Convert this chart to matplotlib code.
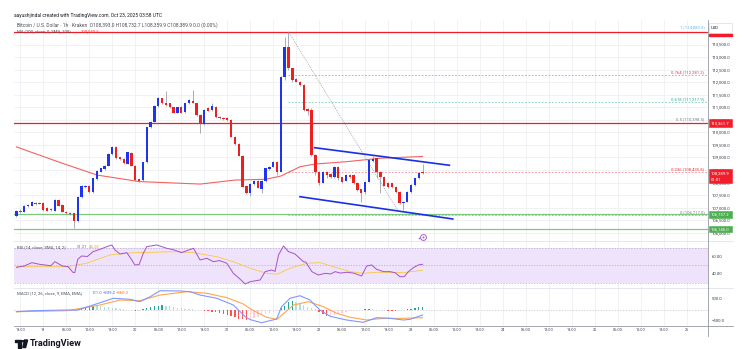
import matplotlib.pyplot as plt
from matplotlib.patches import Rectangle, Circle, Polygon

plt.rcParams['font.family'] = ['Roboto', 'DejaVu Sans']

W, H = 747, 349

# hourly BTC/USD candles, hours counted from Oct 19 00:00 UTC
hours = list(range(-7, 100))
opens = [106668, 106881, 106841, 107067, 107080, 107200, 107190, 107173, 106974, 106940,
         106881, 107306, 107107, 106841, 106801, 106780, 106469, 107439, 107840, 107877,
         107611, 108129, 108435, 108541, 108674, 109138, 109431, 109006, 108939, 108740,
         109191, 108674, 108129, 108089, 108806, 110201, 110427, 111051, 111356, 111157,
         111157, 110998, 110785, 111024, 110812, 111157, 111263, 111157, 110692, 110334,
         110958, 110891, 111024, 110600, 110560, 110586, 110493, 109829, 109537, 109072,
         107863, 107571, 107943, 108076, 107744, 108063, 108541, 108634, 108833, 108435,
         112219, 113415, 112551, 112113, 112020, 111888, 110918, 110891, 109099, 108435,
         107997, 108435, 108342, 108209, 108634, 108209, 108076, 108302, 108302, 107997,
         107731, 107638, 108036, 108860, 108966, 108435, 108235, 107997, 107970, 107837,
         107638, 107173, 107240, 107611, 107904, 108169, 108393]
highs = [106900, 106930, 107100, 107160, 107250, 107240, 107230, 107220, 107010, 106980,
         107340, 107350, 107130, 106880, 106830, 106800, 107460, 107910, 107900, 107910,
         108200, 108490, 108600, 108700, 109160, 109460, 109450, 109030, 108960, 109230,
         109220, 108700, 108150, 108830, 110230, 110450, 111080, 111400, 111380, 111648,
         111190, 111020, 111020, 111050, 111180, 111320, 111688, 111180, 110720, 110920,
         111000, 111180, 111050, 110640, 110600, 110610, 110520, 109860, 109560, 109100,
         107890, 107970, 108100, 108100, 108090, 108590, 108660, 108860, 108860, 112250,
         113800, 114010, 112580, 112150, 112050, 111920, 110960, 110990, 109130, 108460,
         108470, 108460, 108370, 108660, 108660, 108240, 108330, 108330, 108330, 108020,
         107760, 108060, 108930, 109060, 108990, 108460, 108260, 108020, 108000, 107860,
         107660, 107260, 107660, 107930, 108190, 108420, 108733]
lows = [106620, 106800, 106810, 107030, 107050, 107120, 107130, 106880, 106850, 106860,
        106860, 107050, 106810, 106740, 106720, 106177, 106420, 107400, 107800, 107580,
        107590, 108100, 108410, 108520, 108650, 109110, 108930, 108900, 108740, 108720,
        108650, 108080, 108020, 108060, 108780, 110180, 110400, 111030, 111130, 111060,
        110970, 110760, 110760, 110760, 110790, 111130, 111160, 110670, 109962, 110300,
        110840, 110860, 110570, 110530, 110500, 110470, 109800, 109510, 109040, 107810,
        107540, 107450, 107920, 107770, 107600, 108040, 108520, 108610, 108300, 108410,
        112100, 112500, 112000, 111990, 111850, 110860, 110692, 109070, 108300, 107900,
        107970, 108200, 108180, 108180, 108100, 107990, 108050, 108200, 107940, 107680,
        107240, 107550, 108010, 108830, 108200, 107600, 107850, 107780, 107780, 107600,
        107140, 106900, 107210, 107590, 107880, 108140, 108360]
closes = [106881, 106828, 107067, 107110, 107213, 107147, 107160, 106908, 106881, 106890,
          107306, 107080, 106841, 106775, 106748, 106482, 107439, 107877, 107870, 107611,
          108169, 108461, 108567, 108674, 109138, 109431, 108966, 108926, 108767, 109205,
          108674, 108103, 108049, 108806, 110201, 110427, 111051, 111356, 111157, 111091,
          110998, 110785, 110998, 110785, 111157, 111290, 111184, 110692, 110334, 110891,
          110865, 111051, 110599, 110560, 110530, 110493, 109829, 109537, 109072, 107837,
          107571, 107943, 108076, 107797, 108063, 108567, 108634, 108833, 108435, 112219,
          113415, 112551, 112087, 112020, 111888, 110891, 110865, 109099, 108435, 107997,
          108435, 108302, 108209, 108634, 108169, 108036, 108302, 108235, 107970, 107704,
          107571, 108036, 108900, 108926, 108435, 108235, 107877, 107811, 107811, 107638,
          107173, 107240, 107638, 107904, 108169, 108395, 108390]

# 100-period moving average
ma_hours = [-7, 4, 14, 25, 41, 50, 58, 62, 67, 71, 79, 88, 99]
ma_vals = [109420, 108820, 108300, 108040, 107940, 108100, 108130, 108260, 108630,
           108740, 108830, 108970, 109040.5]

# descending channel
chan_upper_t = [70.8, 106.0]
chan_upper_p = [109390, 108689]
chan_lower_t = [67.0, 106.9]
chan_lower_p = [107437, 106549]

# fibonacci retracement (high -> low swing)
fib_ratios = ["1", "0.764", "0.618", "0.5", "0.236", "0"]
fib_prices = [114080.0, 112281.2, 111217.9, 110398.5, 108435.8, 106717.0]
fib_colors = ["#64b5f6", "#f23645", "#22ab94", "#787b86", "#f23645", "#787b86"]
swing_t = [64, 92.5]
swing_p = [114010, 106900]

red_levels = [113990, 110361.7]
green_levels = [106757.2, 106145.0]
last_price = 108389.9

price_ticks = [106000 + 500 * i for i in range(16)]

# RSI(14) and its moving average
rsi_t = [-7, -5, -3, -1, 2, 3, 5, 6.5, 7.7, 8.2, 9, 10, 11.5, 13, 14.8, 16.6, 17.9, 18.7,
         20, 21.8, 23.1, 23.9, 25, 26.1, 27, 29.6, 32.2, 34, 36.1, 37.5, 39.2, 40.9, 42.7,
         44.4, 46, 47.9, 49.6, 51.4, 52.7, 54, 56.6, 57.9, 59.6, 60.5, 61.4, 62.7, 64,
         65.7, 67.9, 68.5, 70.1, 71.8, 73.6, 75, 76.2, 77.5, 79.2, 81, 83.1, 84.4, 85.7,
         87, 88.8, 90.5, 91.8, 93.1, 94.2, 95.3, 96.6, 97.9, 99]
rsi_v = [47.7, 49.2, 53.1, 51.2, 49.5, 54.2, 49.2, 48.4, 42.0, 41.5, 57.0, 60.8, 60.2,
         65.8, 68.5, 71.6, 73.5, 67.7, 63.1, 64.6, 56.2, 50.4, 50.8, 63.9, 71.6, 73.5,
         69.7, 68.0, 64.6, 67.0, 69.7, 56.2, 58.1, 54.2, 55.5, 52.4, 40.8, 33.9, 28.4,
         31.1, 33.1, 42.7, 44.6, 43.0, 62.0, 72.4, 65.8, 63.1, 54.2, 53.8, 42.7, 38.8,
         40.8, 40.0, 42.7, 41.0, 42.0, 41.0, 37.7, 49.2, 50.4, 45.4, 42.7, 42.7, 41.5,
         36.9, 36.9, 42.7, 47.3, 50.4, 51.21]
rsi_ma_t = [-7, 6.1, 11.3, 17.4, 23.5, 27.9, 34.8, 39.2, 45.3, 49.6, 54, 58.3, 61, 64.4,
            68.8, 72.3, 75.7, 80.1, 83.6, 87, 94, 99]
rsi_ma_v = [48.4, 48.4, 52.4, 62.0, 64.6, 65.0, 65.8, 64.6, 60.0, 54.2, 46.6, 40.8, 39.7,
            46.6, 52.4, 53.1, 48.4, 42.7, 40.8, 42.0, 41.5, 44.28]

# MACD(12, 26, 9)
macd_t = [-7, -2.6, 6.1, 8.7, 12.2, 18.3, 22.6, 25.2, 27.9, 30.5, 35.7, 38.3, 40.9, 45.3,
          49.6, 52.7, 54, 57, 60.9, 62.2, 64.4, 67, 69.6, 72.2, 74.9, 79.2, 83.5, 87,
          90.5, 94, 95.7, 99]
macd_v = [-85, -39, -7, -20, 177, 532, 486, 376, 606, 883, 869, 837, 684, 532, 223, -315,
          -450, -592, -422, 145, 532, 652, 454, -7, -300, -468, -574, -362, -390, -468,
          -437, -239.2]
signal_t = [-7, 6.1, 14.8, 20, 25.2, 30.5, 37.5, 42.7, 47.9, 52.2, 54, 58.3, 61, 65.3,
            69.2, 73.1, 76.6, 80.1, 84.4, 88.8, 94, 99]
signal_v = [-85, -39, 223, 454, 422, 684, 837, 763, 560, 270, 50, -343, -437, 223, 376,
            145, -159, -343, -468, -390, -390, -360.2]
hist_v = [-20, -15, -10, 5, 10, 15, 10, 5, 10, 15, 5, -5, -10, -20, -15,
          20, 60, 100, 150, 180, 200, 190, 170,
          150, 120, 100, 80, 50, 30, 10, -20, -40, -30,
          20, 80, 130, 180, 200, 210, 190, 160, 120, 90,
          70, 50, 40, 20, 10, -10, -30, -60, -90, -120,
          -160, -200, -250, -300, -350, -400, -440, -450, -430, -380,
          -320, -260, -200, -140, -80, -30,
          80, 200, 350, 420, 380, 300, 220,
          150, 80, 20, -80, -200, -300,
          -280, -220, -170, -130, -100, -70, -50, -30,
          -10, 20, 40, 30, 10, -10, -20, -30,
          -40, -50, -30, -10, 20, 50, 80, 110, 121]

tick_hours = [-6 + 6 * i for i in range(30)]
tick_labels = ["18:00"] + [lab for d in range(19, 27)
                           for lab in (str(d), "06:00", "12:00", "18:00")][:29]

UP, DOWN, WICK = "#1f33f2", "#ef1f1f", "#8a8c99"
GRID = "#eef0f4"
AXTXT = "#3a3d46"
FS = 3.1
HFS = 3.5


def fx(x):
    return x / W


def fy(y):
    return 1 - y / H


def rect(x0, y0, x1, y1):
    return [fx(x0), fy(y1), (x1 - x0) / W, (y1 - y0) / H]


fig = plt.figure(figsize=(W / 100, H / 100), dpi=100)
fig.patch.set_facecolor("white")

XL = (-7.65, 173.5)
ax_p = fig.add_axes(rect(14, 20, 708, 241))
ax_r = fig.add_axes(rect(14, 241, 708, 288))
ax_m = fig.add_axes(rect(14, 288, 708, 325.7))
for ax in (ax_p, ax_r, ax_m):
    ax.set_axis_off()
    ax.set_xlim(*XL)
    for t in tick_hours:
        ax.axvline(t, color=GRID, lw=0.6, zorder=0)
ax_p.set_ylim(105672, 114477)
ax_r.set_ylim(23.8, 78.1)
ax_m.set_ylim(-730, 1007)
for p in price_ticks:
    ax_p.axhline(p, color=GRID, lw=0.6, zorder=0)

# ---- price panel ----
for p in red_levels:
    ax_p.axhline(p, color="#f21d2a", lw=0.9, zorder=2)
for p in green_levels:
    ax_p.axhline(p, color="#7cc97f", lw=0.9, zorder=2)
for lab, p, c in zip(fib_ratios, fib_prices, fib_colors):
    if lab not in ("1", "0.5"):
        ax_p.plot([swing_t[0], XL[1]], [p, p], color=c, lw=0.6, ls=(0, (2, 2)),
                  alpha=0.6, zorder=2)
    ax_p.text(172.6, p + 35, f"{lab} ({p:,.1f})", color=c, fontsize=FS,
              ha="right", va="bottom", zorder=6)
ax_p.plot(swing_t, swing_p, color="#9598a1", lw=0.5, ls=(0, (1.5, 1.5)), zorder=2)
ax_p.plot(ma_hours, ma_vals, color="#f26363", lw=0.8, zorder=3)

colors = [UP if c >= o else DOWN for o, c in zip(opens, closes)]
bottoms = [min(o, c) for o, c in zip(opens, closes)]
heights = [max(abs(c - o), 12) for o, c in zip(opens, closes)]
ax_p.vlines(hours, lows, highs, color=WICK, lw=0.5, zorder=4)
ax_p.bar(hours, heights, bottom=bottoms, width=0.62, color=colors, lw=0, zorder=5)

ax_p.plot(chan_upper_t, chan_upper_p, color="#1b2fe6", lw=1.2, zorder=6)
ax_p.plot(chan_lower_t, chan_lower_p, color="#1b2fe6", lw=1.2, zorder=6)

# event marker under the latest candle
ax_p.plot([99], [105830], marker="o", ms=4.2, mfc="white", mec="#b45bd0", mew=0.7,
          zorder=6)
ax_p.plot([99], [105830], marker="o", ms=1.4, mfc="#b45bd0", mec="none", zorder=7)
ax_p.plot([98], [105805], marker="o", ms=1.2, mfc="#5b7cf0", mec="none", zorder=7)

# ---- RSI panel ----
ax_r.axhspan(30, 70, color="#efe3fc", lw=0, zorder=0)
for lvl in (70, 50, 30):
    ax_r.axhline(lvl, color="#b9a9c9", lw=0.5, ls=(0, (2, 2)), zorder=1)
ax_r.plot(rsi_ma_t, rsi_ma_v, color="#f7c843", lw=0.6, zorder=2)
ax_r.plot(rsi_t, rsi_v, color="#a552c9", lw=0.7, zorder=3)

# ---- MACD panel ----
ax_m.axhline(0, color="#c4c6cc", lw=0.5, ls=(0, (2, 2)), zorder=1)
hcols = []
prev = 0
for v in hist_v:
    if v >= 0:
        hcols.append("#26a69a" if v >= prev else "#b2dfdb")
    else:
        hcols.append("#ff5252" if v < prev else "#ffcdd2")
    prev = v
ax_m.bar(hours, hist_v, width=0.35, color=hcols, lw=0, zorder=2)
ax_m.plot(signal_t, signal_v, color="#ffa64d", lw=0.8, zorder=3)
ax_m.plot(macd_t, macd_v, color="#7f98ff", lw=0.8, zorder=4)

# ---- frame, separators and scales ----
for y, c in ((241, "#e0e3eb"), (288, "#e0e3eb"), (325.7, "#9598a1")):
    fig.add_artist(plt.Line2D([fx(14), fx(733)], [fy(y), fy(y)], color=c, lw=0.6))
fig.add_artist(plt.Line2D([fx(708), fx(708)], [fy(20), fy(336)], color="#9598a1", lw=0.6))

for p in price_ticks:
    y = 123.3 - (p - 110361.7) * 0.0251
    fig.text(fx(712), fy(y), f"{p:,.1f}", fontsize=FS, color=AXTXT, va="center")
for v, y in (("60.00", 256.7), ("40.00", 274.0), ("500.0", 299.0), ("\u2212500.0", 320.7)):
    fig.text(fx(712), fy(y), v, fontsize=FS, color=AXTXT, va="center")

for t, lab in zip(tick_hours, tick_labels):
    x = 14 + (t - XL[0]) / (XL[1] - XL[0]) * 694
    if x < 705:
        fig.text(fx(x), fy(330), lab, fontsize=FS * 0.9, color=AXTXT, ha="center",
                 va="center")


def scale_tag(y0, y1, face, lines, edge=None):
    fig.add_artist(Rectangle((fx(708.5), fy(y1)), (732 - 708.5) / W, (y1 - y0) / H,
                             transform=fig.transFigure, facecolor=face,
                             edgecolor=edge or face, lw=0.4, zorder=10))
    step = (y1 - y0) / len(lines)
    for i, (txt, col) in enumerate(lines):
        fig.text(fx(711), fy(y0 + step * (i + 0.5)), txt, fontsize=FS, color=col,
                 va="center", zorder=11)


scale_tag(22.7, 33.3, "white", [("USD", "#131722")], edge="#d1d4dc")
fig.add_artist(Rectangle((fx(708.5), fy(35.6)), (732 - 708.5) / W, 1.6 / H,
                         transform=fig.transFigure, color="#f21d2a", zorder=10))
scale_tag(119.3, 127.3, "#f21d2a", [("110,361.7", "white")])
scale_tag(169.5, 183.0, "#f21d2a", [(f"{last_price:,.1f}", "white"), ("01:01", "white")])
scale_tag(211.0, 217.5, "#4caf50", [("106,757.2", "white")])
scale_tag(225.8, 232.3, "#4caf50", [("106,145.0", "white")])

# ---- legends ----
fig.text(fx(14), fy(15.3), "aayushjindal created with TradingView.com, Oct 23, 2025 03:58 UTC",
         fontsize=HFS, color="#131722", va="center")
fig.text(fx(17), fy(25.5),
         "Bitcoin / U.S. Dollar \u00b7 1h \u00b7 Kraken  O108,393.0 H108,732.7 L108,359.9 "
         "C108,389.9 0.0 (0.00%)", fontsize=HFS, color="#4a4d57", va="center")
fig.text(fx(17), fy(31.5), "MA (100, close, 0, SMA, 100)", fontsize=FS, color="#4a4d57",
         va="center")
fig.text(fx(81), fy(31.5), f"{ma_vals[-1]:,.1f}", fontsize=FS, color="#f23645", va="center")

fig.text(fx(17), fy(247.3), "RSI (14, close, SMA, 14, 2)", fontsize=FS, color="#4a4d57",
         va="center")
fig.text(fx(77), fy(247.3), f"{rsi_v[-1]:.2f}", fontsize=FS, color="#a552c9", va="center")
fig.text(fx(89), fy(247.3), f"{rsi_ma_v[-1]:.2f}", fontsize=FS, color="#f2b600", va="center")

fig.text(fx(17), fy(293.3), "MACD (12, 26, close, 9, EMA, EMA)", fontsize=FS,
         color="#4a4d57", va="center")
fig.text(fx(92), fy(293.3), f"{hist_v[-1]:.1f}", fontsize=FS, color="#26a69a", va="center")
fig.text(fx(103), fy(293.3), f"\u2212{-macd_v[-1]:.1f}", fontsize=FS, color="#2962ff",
         va="center")
fig.text(fx(116), fy(293.3), f"\u2212{-signal_v[-1]:.1f}", fontsize=FS, color="#ff6d00",
         va="center")

# TradingView wordmark
LOGO_Y = 343.5
fig.add_artist(Rectangle((fx(15), fy(LOGO_Y - 1.5)), 6 / W, 2.0 / H,
                         transform=fig.transFigure, color="#131722"))
fig.add_artist(Rectangle((fx(18), fy(LOGO_Y + 4)), 3 / W, 5.5 / H,
                         transform=fig.transFigure, color="#131722"))
fig.add_artist(Circle((fx(23.3), fy(LOGO_Y - 2.3)), 1.1 / W, transform=fig.transFigure,
                      color="#131722"))
fig.add_artist(Polygon([(fx(24.6), fy(LOGO_Y - 3.5)), (fx(27.6), fy(LOGO_Y - 3.5)),
                        (fx(25.6), fy(LOGO_Y + 4)), (fx(22.8), fy(LOGO_Y + 4))],
                       closed=True, transform=fig.transFigure, color="#131722"))
fig.text(fx(29.5), fy(LOGO_Y), "TradingView", fontsize=6.6, fontweight="bold",
         color="#131722", va="center")

fig.savefig("out.png", dpi=100)
